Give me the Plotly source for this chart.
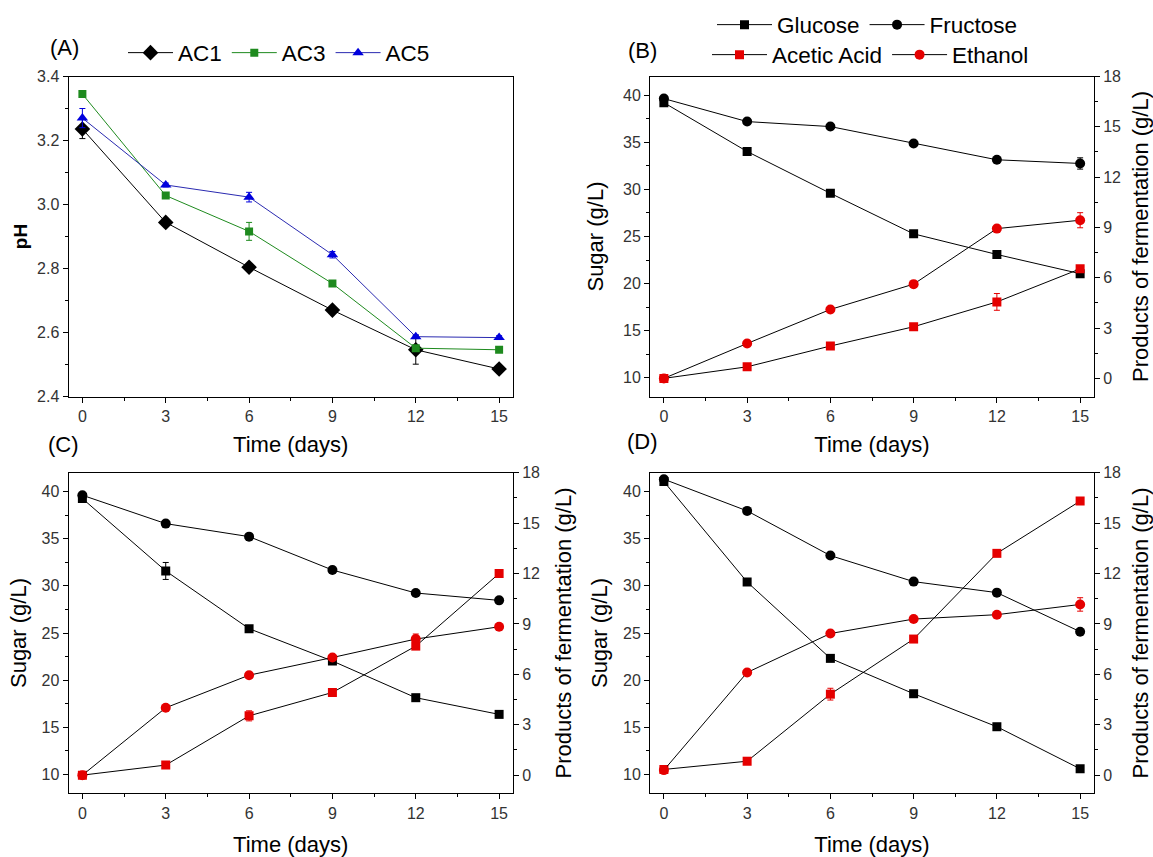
import plotly.graph_objects as go

W, H = 1153, 857

days = [0, 3, 6, 9, 12, 15]

# Panel A : pH
ph_ac1 = [3.236, 2.944, 2.804, 2.670, 2.546, 2.486]
ph_ac1_err = [0.030, 0.006, 0.006, 0.006, 0.045, 0.006]
ph_ac3 = [3.345, 3.028, 2.916, 2.753, 2.551, 2.546]
ph_ac3_err = [0.006, 0.006, 0.028, 0.006, 0.006, 0.006]
ph_ac5 = [3.270, 3.061, 3.023, 2.843, 2.587, 2.584]
ph_ac5_err = [0.030, 0.006, 0.015, 0.010, 0.006, 0.006]

# Panel B
b_glucose = [39.22, 34.03, 29.59, 25.28, 23.09, 21.05]
b_glucose_err = [0.25, 0.3, 0.3, 0.25, 0.3, 0.2]
b_fructose = [39.65, 37.21, 36.68, 34.88, 33.15, 32.76]
b_fructose_err = [0.2, 0.2, 0.2, 0.2, 0.2, 0.6]
b_acetic = [0.00, 0.69, 1.93, 3.08, 4.56, 6.53]
b_acetic_err = [0.1, 0.1, 0.15, 0.1, 0.5, 0.1]
b_ethanol = [0.00, 2.08, 4.11, 5.62, 8.93, 9.43]
b_ethanol_err = [0.1, 0.1, 0.1, 0.1, 0.1, 0.45]

# Panel C
c_glucose = [39.26, 31.58, 25.46, 22.03, 18.14, 16.37]
c_glucose_err = [0.2, 0.9, 0.3, 0.2, 0.2, 0.2]
c_fructose = [39.61, 36.60, 35.22, 31.68, 29.24, 28.46]
c_fructose_err = [0.2, 0.3, 0.2, 0.3, 0.2, 0.2]
c_acetic = [0.00, 0.60, 3.53, 4.92, 7.68, 12.00]
c_acetic_err = [0.1, 0.1, 0.3, 0.1, 0.2, 0.1]
c_ethanol = [0.00, 4.01, 5.95, 7.00, 8.10, 8.83]
c_ethanol_err = [0.1, 0.1, 0.1, 0.1, 0.3, 0.1]

# Panel D
d_glucose = [41.06, 30.41, 22.31, 18.56, 15.06, 10.60]
d_glucose_err = [0.2, 0.2, 0.2, 0.2, 0.2, 0.2]
d_fructose = [41.31, 37.95, 33.21, 30.45, 29.28, 25.14]
d_fructose_err = [0.3, 0.2, 0.2, 0.2, 0.3, 0.2]
d_acetic = [0.34, 0.83, 4.82, 8.10, 13.20, 16.31]
d_acetic_err = [0.1, 0.1, 0.35, 0.1, 0.1, 0.1]
d_ethanol = [0.30, 6.11, 8.43, 9.29, 9.55, 10.16]
d_ethanol_err = [0.1, 0.1, 0.1, 0.1, 0.1, 0.4]

FONT = "Liberation Sans, Arial, sans-serif"
RED = "#e50000"
GREEN = "#1e8a1e"
BLUE = "#0000dd"
TICKCOL = "#333333"

fig = go.Figure()


def err(arr, color):
    return dict(type="data", array=arr, visible=True, color=color, thickness=1, width=3)


# ---- Panel A
fig.add_trace(go.Scatter(x=days, y=ph_ac1, name="AC1", mode="lines+markers",
                         line=dict(color="black", width=1),
                         marker=dict(symbol="diamond", size=12, color="black"),
                         error_y=err(ph_ac1_err, "black"), xaxis="x", yaxis="y", legend="legend"))
fig.add_trace(go.Scatter(x=days, y=ph_ac3, name="AC3", mode="lines+markers",
                         line=dict(color=GREEN, width=1),
                         marker=dict(symbol="square", size=8, color=GREEN),
                         error_y=err(ph_ac3_err, GREEN), xaxis="x", yaxis="y", legend="legend"))
fig.add_trace(go.Scatter(x=days, y=ph_ac5, name="AC5", mode="lines+markers",
                         line=dict(color="#2a2ab0", width=1),
                         marker=dict(symbol="triangle-up", size=10, color=BLUE),
                         error_y=err(ph_ac5_err, BLUE), xaxis="x", yaxis="y", legend="legend"))


def panel(glu, glu_e, fru, fru_e, ace, ace_e, eth, eth_e, xa, ya, yb, show):
    fig.add_trace(go.Scatter(x=days, y=glu, name="Glucose", mode="lines+markers",
                             line=dict(color="black", width=1),
                             marker=dict(symbol="square", size=9, color="black"),
                             error_y=err(glu_e, "black"), xaxis=xa, yaxis=ya,
                             showlegend=show, legend="legend2"))
    fig.add_trace(go.Scatter(x=days, y=fru, name="Fructose", mode="lines+markers",
                             line=dict(color="black", width=1),
                             marker=dict(symbol="circle", size=10, color="black"),
                             error_y=err(fru_e, "black"), xaxis=xa, yaxis=ya,
                             showlegend=show, legend="legend2"))
    fig.add_trace(go.Scatter(x=days, y=ace, name="Acetic Acid", mode="lines+markers",
                             line=dict(color="black", width=1),
                             marker=dict(symbol="square", size=9, color=RED),
                             error_y=err(ace_e, RED), xaxis=xa, yaxis=yb,
                             showlegend=show, legend="legend3"))
    fig.add_trace(go.Scatter(x=days, y=eth, name="Ethanol", mode="lines+markers",
                             line=dict(color="black", width=1),
                             marker=dict(symbol="circle", size=10, color=RED),
                             error_y=err(eth_e, RED), xaxis=xa, yaxis=yb,
                             showlegend=show, legend="legend3"))


panel(b_glucose, b_glucose_err, b_fructose, b_fructose_err, b_acetic, b_acetic_err,
      b_ethanol, b_ethanol_err, "x2", "y2", "y3", True)
panel(c_glucose, c_glucose_err, c_fructose, c_fructose_err, c_acetic, c_acetic_err,
      c_ethanol, c_ethanol_err, "x3", "y4", "y5", False)
panel(d_glucose, d_glucose_err, d_fructose, d_fructose_err, d_acetic, d_acetic_err,
      d_ethanol, d_ethanol_err, "x4", "y6", "y7", False)

XL, XR = 68.5, 513.0
XL2, XR2 = 650.0, 1094.0
YT1, YB1 = 76.5, 396.5
YT2, YB2 = 472.7, 793.3


def dx(a, b):
    return [a / W, b / W]


def dy(top, bot):
    return [1 - bot / H, 1 - top / H]


tickfont = dict(family=FONT, size=16, color=TICKCOL)
titlefont = dict(family=FONT, size=22, color="black")


def xax(dom, anchor, standoff):
    return dict(domain=dom, anchor=anchor, range=[-0.5, 15.5], tickmode="array",
                tickvals=days, ticks="outside", ticklen=5, tickwidth=1, tickcolor="black",
                showline=True, linecolor="black", linewidth=1, mirror=True,
                showgrid=False, zeroline=False, tickfont=tickfont,
                minor=dict(dtick=1.5, tick0=0, ticks="outside", ticklen=3, tickcolor="black"),
                title=dict(text="Time (days)", font=titlefont, standoff=standoff))


def yax(dom, anchor, rng, dtick, mdtick, title, side="left", overlay=None, tfont=None,
        fmt=None, standoff=8):
    d = dict(anchor=anchor, range=rng, dtick=dtick, tick0=0, ticks="outside", ticklen=5,
             tickwidth=1, tickcolor="black", showline=True, linecolor="black", linewidth=1,
             mirror=(overlay is None), showgrid=False, zeroline=False, tickfont=tickfont,
             side=side,
             minor=dict(dtick=mdtick, tick0=0, ticks="outside", ticklen=3, tickcolor="black"),
             title=dict(text=title, font=tfont or titlefont, standoff=standoff))
    if fmt:
        d["tickformat"] = fmt
    if overlay:
        d["overlaying"] = overlay
    else:
        d["domain"] = dom
    return d


legfont = dict(family=FONT, size=22.5, color="black")
PROD = "Products of fermentation (g/L)"

fig.update_layout(
    width=W, height=H, margin=dict(l=0, r=0, t=0, b=0, autoexpand=False),
    paper_bgcolor="white", plot_bgcolor="white",
    font=dict(family=FONT, size=16, color="black"),
    xaxis=xax(dx(XL, XR), "y", 12),
    yaxis=yax(dy(YT1, YB1), "x", [2.4, 3.4], 0.2, 0.1, "<b>pH</b>",
              tfont=dict(family=FONT, size=19, color="black"), fmt=".1f", standoff=4),
    xaxis2=xax(dx(XL2, XR2), "y2", 12),
    yaxis2=yax(dy(YT1, YB1), "x2", [8, 42], 5, 2.5, "Sugar (g/L)", standoff=13),
    yaxis3=yax(None, "x2", [-1.08, 18], 3, 1.5, PROD, side="right", overlay="y2", standoff=14),
    xaxis3=xax(dx(XL, XR), "y4", 17),
    yaxis4=yax(dy(YT2, YB2), "x3", [8, 42], 5, 2.5, "Sugar (g/L)", standoff=8),
    yaxis5=yax(None, "x3", [-1.08, 18], 3, 1.5, PROD, side="right", overlay="y4", standoff=16),
    xaxis4=xax(dx(XL2, XR2), "y6", 17),
    yaxis6=yax(dy(YT2, YB2), "x4", [8, 42], 5, 2.5, "Sugar (g/L)", standoff=9),
    yaxis7=yax(None, "x4", [-1.08, 18], 3, 1.5, PROD, side="right", overlay="y6", standoff=14),
    legend=dict(orientation="h", x=123 / W, y=1 - 53 / H, xanchor="left", yanchor="middle",
                bgcolor="rgba(0,0,0,0)", font=legfont, itemwidth=45, itemclick=False),
    legend2=dict(orientation="h", x=712 / W, y=1 - 25 / H, xanchor="left", yanchor="middle",
                 bgcolor="rgba(0,0,0,0)", font=legfont, itemwidth=55),
    legend3=dict(orientation="h", x=707 / W, y=1 - 55 / H, xanchor="left", yanchor="middle",
                 bgcolor="rgba(0,0,0,0)", font=legfont, itemwidth=55),
)

labels = [("(A)", 64, 48), ("(B)", 642, 50), ("(C)", 63, 444), ("(D)", 642, 441)]
for txt, px, py in labels:
    fig.add_annotation(text=txt, x=px / W, y=1 - py / H, xref="paper", yref="paper",
                       showarrow=False, xanchor="center", yanchor="middle",
                       font=dict(family=FONT, size=22, color="black"))

fig.write_html("out.html")
